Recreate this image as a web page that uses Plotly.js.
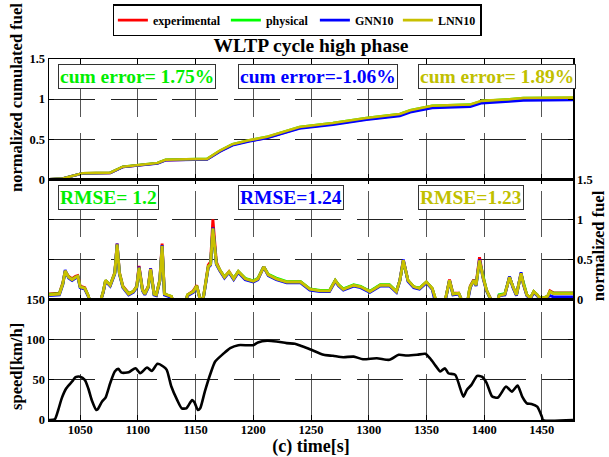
<!DOCTYPE html>
<html>
<head>
<meta charset="utf-8">
<script src="https://cdn.plot.ly/plotly-3.0.1.min.js"></script>
<style>html,body{margin:0;padding:0;background:#fff;}#chart{width:609px;height:457px;}</style>
</head>
<body>
<div id="chart"></div>
<script>
// ---- cumulated fuel (top panel) ----
const cumTime = [1023,1035,1052,1076,1087,1102,1117,1124,1160,1171,1182,1197,1212,1240,1269,1298,1327,1336,1355,1388,1398,1422,1434,1477];
const cumExp  = [0,0.01,0.075,0.08,0.155,0.18,0.2,0.24,0.25,0.35,0.43,0.48,0.52,0.64,0.69,0.75,0.8,0.845,0.9,0.915,0.96,0.98,0.995,1.0];
const cumPhys = [0,0.01,0.076,0.082,0.158,0.183,0.204,0.245,0.255,0.356,0.437,0.488,0.529,0.651,0.702,0.763,0.814,0.86,0.916,0.931,0.977,0.997,1.012,1.0175];
const cumGNN  = [0,0.01,0.074,0.079,0.153,0.178,0.198,0.237,0.247,0.346,0.425,0.475,0.514,0.633,0.682,0.742,0.791,0.836,0.89,0.905,0.95,0.97,0.984,0.989];
const cumLNN  = [0,0.01,0.076,0.082,0.158,0.184,0.204,0.245,0.255,0.357,0.438,0.489,0.53,0.652,0.703,0.764,0.815,0.861,0.917,0.932,0.978,0.998,1.013,1.019];

// ---- instantaneous fuel (middle panel) ----
const fuelTime = [1023,1032,1035,1037,1040,1043,1046,1048,1050,1054,1057,1058,1068,1070,1072,1076,1080,1082,1084,1087,1092,1096,1099,1101,1104,1106,1109,1111,1114,1116,1119,1121,1123,1126,1129,1130,1142,1143,1148,1151,1153,1154,1156,1157,1161,1163,1165,1168,1171,1175,1179,1183,1187,1193,1200,1204,1209,1213,1220,1229,1235,1241,1249,1258,1266,1271,1274,1278,1287,1293,1301,1310,1318,1324,1327,1330,1334,1339,1344,1350,1355,1357,1358,1366,1367,1370,1373,1378,1380,1381,1386,1387,1388,1391,1393,1396,1399,1402,1405,1406,1412,1413,1418,1422,1425,1428,1432,1434,1437,1440,1443,1446,1448,1451,1455,1457,1460,1477];
const fuelExp  = [0.07,0.08,0.21,0.35,0.29,0.26,0.29,0.3,0.17,0.15,0.05,0,0,0.1,0.24,0.18,0.34,0.7,0.34,0.17,0.08,0.1,0.17,0.42,0.13,0.08,0.17,0.39,0.08,0.06,0.25,0.7,0.08,0.05,0.04,0,0,0.06,0.11,0.18,0.06,0,0,0.05,0.43,0.47,1.0,0.47,0.37,0.28,0.35,0.26,0.35,0.26,0.23,0.26,0.41,0.31,0.26,0.22,0.22,0.22,0.13,0.11,0.11,0.24,0.18,0.13,0.18,0.16,0.1,0.18,0.18,0.1,0.24,0.49,0.24,0.16,0.14,0.22,0.14,0.02,0,0,0.04,0.25,0.08,0.08,0.01,0,0,0.1,0.17,0.25,0.19,0.53,0.29,0.12,0.02,0,0,0.05,0.07,0.28,0.16,0.06,0.33,0.2,0.06,0.02,0.1,0.06,0.02,0.02,0.04,0.11,0.085,0.085];
const fuelPhys = [0.065,0.075,0.2,0.35,0.28,0.25,0.28,0.29,0.16,0.14,0.05,0,0,0.1,0.24,0.18,0.33,0.68,0.33,0.16,0.075,0.1,0.16,0.39,0.12,0.07,0.16,0.37,0.07,0.06,0.24,0.66,0.07,0.05,0.04,0,0,0.06,0.1,0.17,0.06,0,0,0.05,0.41,0.44,0.88,0.45,0.37,0.285,0.34,0.265,0.35,0.265,0.235,0.265,0.41,0.315,0.27,0.225,0.225,0.225,0.135,0.115,0.115,0.24,0.185,0.135,0.185,0.165,0.105,0.185,0.185,0.105,0.24,0.48,0.24,0.16,0.145,0.22,0.14,0.02,0,0,0.04,0.24,0.07,0.08,0.01,0,0,0.1,0.16,0.24,0.18,0.48,0.28,0.12,0.02,0,0,0.06,0.075,0.28,0.16,0.06,0.32,0.2,0.06,0.02,0.1,0.06,0.02,0.02,0.04,0.1,0.08,0.08];
const fuelGNN  = [0.05,0.06,0.19,0.37,0.27,0.24,0.27,0.28,0.15,0.13,0.04,0,0,0.09,0.23,0.17,0.32,0.7,0.32,0.15,0.06,0.09,0.15,0.41,0.11,0.06,0.15,0.39,0.06,0.05,0.23,0.68,0.06,0.04,0.03,0,0,0.05,0.09,0.16,0.05,0,0,0.04,0.4,0.43,0.9,0.44,0.36,0.27,0.34,0.25,0.34,0.25,0.22,0.25,0.41,0.3,0.25,0.21,0.21,0.21,0.12,0.1,0.1,0.23,0.17,0.12,0.17,0.15,0.09,0.17,0.17,0.09,0.24,0.5,0.23,0.15,0.13,0.21,0.13,0.01,0,0,0.03,0.24,0.06,0.07,0.01,0,0,0.09,0.15,0.24,0.17,0.5,0.27,0.11,0.01,0,0,0.05,0.06,0.29,0.15,0.05,0.34,0.19,0.05,0.01,0.09,0.05,0.01,0.01,0.03,0.05,0.035,0.035];
const fuelLNN  = [0.06,0.07,0.2,0.36,0.28,0.25,0.28,0.29,0.16,0.14,0.05,0,0,0.1,0.24,0.18,0.33,0.69,0.33,0.16,0.07,0.1,0.16,0.4,0.12,0.07,0.16,0.38,0.07,0.06,0.24,0.67,0.07,0.05,0.04,0,0,0.06,0.1,0.17,0.06,0,0,0.05,0.41,0.44,0.89,0.45,0.37,0.28,0.35,0.26,0.35,0.26,0.23,0.26,0.41,0.31,0.26,0.22,0.22,0.22,0.13,0.11,0.11,0.24,0.18,0.13,0.18,0.16,0.1,0.18,0.18,0.1,0.24,0.49,0.24,0.16,0.14,0.22,0.14,0.02,0,0,0.04,0.24,0.07,0.08,0.01,0,0,0.1,0.16,0.24,0.18,0.49,0.28,0.12,0.02,0,0,0.05,0.07,0.28,0.16,0.06,0.33,0.2,0.06,0.02,0.1,0.06,0.02,0.02,0.04,0.1,0.075,0.075];

// ---- speed (bottom panel) ----
const speedTime = [1023,1028,1031,1034,1038,1043,1046,1050,1054,1057,1060,1064,1065,1069,1072,1076,1080,1083,1086,1092,1098,1102,1108,1112,1117,1122,1125,1129,1134,1138,1142,1147,1149,1152,1154,1158,1163,1167,1174,1180,1187,1200,1204,1212,1220,1229,1236,1241,1249,1261,1269,1278,1287,1295,1307,1318,1326,1333,1342,1349,1353,1358,1362,1366,1369,1375,1382,1385,1389,1394,1398,1402,1407,1412,1419,1424,1429,1433,1437,1441,1446,1450,1451,1477];
const speedVal  = [0,0.8,12.5,27,39.6,48,53.3,54,50,39.6,25,12.5,13,23,28,45.8,60.4,63.7,59,59.6,64.6,58.3,65.4,61.2,70,66.7,62.5,41.7,25,14.6,14.6,25,22,12.5,14.6,35.4,58.3,72.9,82.5,89.6,93.3,93.3,96.7,98.75,97.9,95.8,95,92.5,88.3,81.25,80,78.3,79,75.8,77,75,81.25,80.4,81.25,82.5,77,67.5,60.4,64.6,58.3,56.25,29.2,37.5,43.75,55,54,46.7,29.2,28,41.7,35.4,42.9,29.2,20.8,20,16.7,4.2,0,0];

// ---- labels ----
const seriesNames = ['experimental','physical','GNN10','LNN10'];
const seriesColors = ['#ff0000','#00ff00','#0000ff','#c8c000'];
const legendWidths = [68,44,38,37];
const cumErrorTexts = ['cum error= 1.75%','cum error=-1.06%','cum error= 1.89%'];
const rmseTexts = ['RMSE= 1.2','RMSE=1.24','RMSE=1.23'];
const xTicks = [1050,1100,1150,1200,1250,1300,1350,1400,1450];

const FF = 'Liberation Serif, Times New Roman, serif';
const cumSeries = [cumExp, cumPhys, cumGNN, cumLNN];
const fuelSeries = [fuelExp, fuelPhys, fuelGNN, fuelLNN];

const traces = [];
seriesNames.forEach((n, i) => {
  traces.push({x: cumTime, y: cumSeries[i], xaxis: 'x', yaxis: 'y', mode: 'lines', name: n,
    line: {color: seriesColors[i], width: 2.6}, legendgroup: n, showlegend: true, legendwidth: legendWidths[i]});
});
seriesNames.forEach((n, i) => {
  traces.push({x: fuelTime, y: fuelSeries[i], xaxis: 'x2', yaxis: 'y2', mode: 'lines', name: n,
    line: {color: seriesColors[i], width: 2.9}, legendgroup: n, showlegend: false});
});
traces.push({x: speedTime, y: speedVal, xaxis: 'x3', yaxis: 'y3', mode: 'lines', name: 'speed',
  line: {color: '#000', width: 2.6, shape: 'spline', smoothing: 0.6}, showlegend: false});

const tickFont = {family: FF, size: 12.5, color: '#000', weight: 'bold'};
function xAx(anchor, labels) {
  return {
    anchor: anchor, domain: [0, 1], range: [1023, 1477], tickvals: xTicks,
    showticklabels: labels, tickfont: tickFont,
    showline: true, mirror: 'ticks', linecolor: '#000', linewidth: 1.5,
    ticks: 'inside', ticklen: 5, tickcolor: '#000', tickwidth: 1,
    showgrid: true, gridcolor: '#555', gridwidth: 1, griddash: '0px,12px,46px,16px,46px,300px',
    zeroline: false
  };
}
function yAx(anchor, dom, range, tv, side, labels) {
  return {
    anchor: anchor, domain: dom, range: range, tickvals: tv, side: side,
    showticklabels: labels, tickfont: tickFont,
    showline: true, mirror: 'ticks', linecolor: '#000', linewidth: 1.5,
    ticks: 'inside', ticklen: 5, tickcolor: '#000', tickwidth: 1,
    showgrid: true, gridcolor: '#222', gridwidth: 1, griddash: '46px,15.6px',
    zeroline: false
  };
}

const boxFont = (c) => ({family: FF, size: 19.5, color: c, weight: 'bold'});
const annotations = [];
const boxX = [0.018, 0.361, 0.705];
const annColors = ['#00ee00','#0000ff','#c0c000'];
cumErrorTexts.forEach((t, i) => annotations.push({
  xref: 'paper', yref: 'paper', x: boxX[i], y: 0.951, xanchor: 'left', yanchor: 'middle',
  text: t, showarrow: false, font: boxFont(annColors[i]),
  bgcolor: '#fff', bordercolor: '#333', borderwidth: 1, borderpad: 1
}));
rmseTexts.forEach((t, i) => annotations.push({
  xref: 'paper', yref: 'paper', x: boxX[i], y: 0.617, xanchor: 'left', yanchor: 'middle',
  text: t, showarrow: false, font: boxFont(annColors[i]),
  bgcolor: '#fff', bordercolor: '#333', borderwidth: 1, borderpad: 1
}));
const titleFont = {family: FF, size: 16.5, color: '#000', weight: 'bold'};
annotations.push({xref: 'paper', yref: 'paper', x: -0.061, y: 0.892, xanchor: 'center', yanchor: 'middle',
  text: 'normalized cumulated fuel', textangle: -90, showarrow: false, font: titleFont});
annotations.push({xref: 'paper', yref: 'paper', x: -0.061, y: 0.147, xanchor: 'center', yanchor: 'middle',
  text: 'speed[km/h]', textangle: -90, showarrow: false, font: titleFont});
annotations.push({xref: 'paper', yref: 'paper', x: 1.05, y: 0.482, xanchor: 'center', yanchor: 'middle',
  text: 'normalized fuel', textangle: -90, showarrow: false, font: titleFont});

const layout = {
  width: 609, height: 457,
  margin: {l: 49, r: 36, t: 59, b: 37, autoexpand: false},
  paper_bgcolor: '#fff', plot_bgcolor: '#fff',
  font: {family: FF, color: '#000', weight: 'bold'},
  title: {text: 'WLTP cycle high phase', x: 0.5, xref: 'paper', xanchor: 'center', y: 0.902, yanchor: 'middle',
    font: {family: FF, size: 19.5, color: '#000', weight: 'bold'}},
  showlegend: true,
  legend: {orientation: 'h', x: 0.474, xanchor: 'center', y: 1.152, yanchor: 'top',
    bgcolor: '#fff', bordercolor: '#000', borderwidth: 1.5, itemwidth: 30,
    font: {family: FF, size: 12, color: '#000', weight: 'bold'}, tracegroupgap: 0},
  xaxis: xAx('y', false),
  xaxis2: xAx('y2', false),
  xaxis3: Object.assign(xAx('y3', true), {ticklabelstandoff: -3, title: {text: '(c) time[s]', standoff: 1,
    font: {family: FF, size: 18, color: '#000', weight: 'bold'}}}),
  yaxis: yAx('x', [2/3, 1], [0, 1.5], [0, 0.5, 1, 1.5], 'left', true),
  yaxis2: yAx('x2', [1/3, 2/3], [0, 1.5], [0, 0.5, 1, 1.5], 'right', true),
  yaxis3: yAx('x3', [0, 1/3], [0, 150], [0, 50, 100, 150], 'left', true),
  annotations: annotations
};

Plotly.newPlot('chart', traces, layout, {displayModeBar: false, staticPlot: true});
</script>
</body>
</html>
